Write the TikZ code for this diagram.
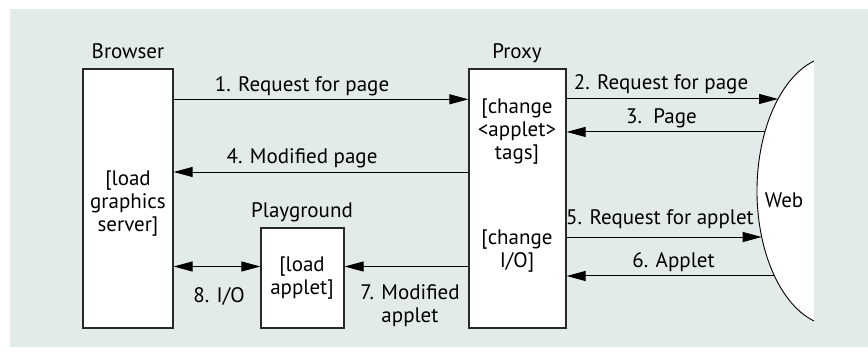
\documentclass[tikz,border=0pt]{standalone}
\usepackage{fontspec}
\setmainfont{PT Sans}
\usetikzlibrary{arrows.meta,calc}
\definecolor{panel}{RGB}{226,235,234}
\definecolor{edge}{RGB}{40,40,40}
\begin{document}
\begin{tikzpicture}[x=1pt,y=1pt,
  box/.style={draw=edge, line width=1.3pt, fill=white, rectangle, inner sep=0pt},
  lbl/.style={font=\fontsize{21}{23}\selectfont, inner sep=0pt, anchor=base},
  inbox/.style={font=\fontsize{21}{23}\selectfont, inner sep=0pt, align=center},
  tip/.tip={Triangle[length=19pt,width=10pt]},
  flow/.style={line width=1pt, -tip},
  both/.style={line width=1pt, tip-tip},
]
\useasboundingbox (0,0) rectangle (868,-356);
% background panel
\fill[panel] (10,-9) rectangle (868,-347);

% the Web: a cut ellipse on the right
\coordinate (webc) at (835.6,-191);
\fill[white] ($(webc)+(106:78.6 and 135.2)$) arc[start angle=106, end angle=254, x radius=78.6, y radius=135.2] -- cycle;
\draw[line width=0.9pt] ($(webc)+(106:78.6 and 135.2)$) arc[start angle=106, end angle=254, x radius=78.6, y radius=135.2];
\coordinate (w2) at ($(webc)+(137.1:78.6 and 135.2)$);
\coordinate (w3) at ($(webc)+(154.1:78.6 and 135.2)$);
\coordinate (w5) at ($(webc)+(199.9:78.6 and 135.2)$);
\coordinate (w6) at ($(webc)+(218.95:78.6 and 135.2)$);
\node[lbl] (web) at (784,-207) {Web};

% boxes
\node[box, minimum width=90pt, minimum height=259pt] (browser) at (128,-198.5) {};
\node[box, minimum width=83pt, minimum height=100pt] (play) at (302.5,-278) {};
\node[box, minimum width=97pt, minimum height=259pt] (proxy) at (517.5,-198.5) {};

% titles
\node[lbl] (tbrowser) at (128,-58) {Browser};
\node[lbl] (tproxy) at (517,-58) {Proxy};
\node[lbl] (tplay) at (302,-217) {Playground};

% box contents
\node[inbox] (cbrowser) at (128,-204) {[load\\graphics\\server]};
\node[inbox] (cproxy1) at (517,-132) {[change\\<applet>\\tags]};
\node[inbox] (cproxy2) at (517,-251) {[change\\I/O]};
\node[inbox] (cplay) at (302,-278) {[load\\applet]};

% message levels
\coordinate (lv1) at (0,-99.3);
\coordinate (lv4) at (0,-172);
\coordinate (lv8) at (0,-266.5);

% connectors
\draw[flow] (browser.east |- lv1) -- (proxy.west |- lv1);
\draw[flow] (proxy.west |- lv4) -- (browser.east |- lv4);
\draw[both] (browser.east |- lv8) -- (play.west |- lv8);
\draw[flow] (proxy.west |- lv8) -- (play.east |- lv8);
\draw[flow] (w2 -| proxy.east) -- (w2);
\draw[flow] (w3) -- (w3 -| proxy.east);
\draw[flow] (w5 -| proxy.east) -- (w5);
\draw[flow] (w6) -- (w6 -| proxy.east);

% connector labels
\node[lbl] (l1) at (302,-91) {1. Request for page};
\node[lbl] (l4) at (302,-163) {4. Modified page};
\node[lbl] (l2) at (661,-89) {2. Request for page};
\node[lbl] (l3) at (661.5,-123) {3.\ \ Page};
\node[lbl] (l5) at (660,-224) {5. Request for applet};
\node[lbl] (l6) at (673.5,-267) {6. Applet};
\node[lbl] (l8) at (219,-302) {8. I/O};
\node[inbox] (l7) at (410,-306) {7. Modified\\applet};
\end{tikzpicture}
\end{document}
